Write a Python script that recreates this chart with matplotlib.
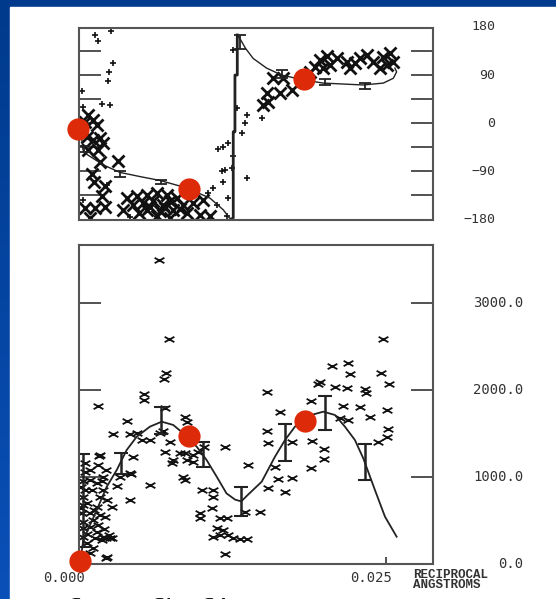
import numpy as np
import matplotlib
matplotlib.use("Agg")
import matplotlib.pyplot as plt
from matplotlib.path import Path
from matplotlib.colors import LinearSegmentedColormap
from matplotlib.patches import Rectangle

# ---------------- data ----------------
# phase panel (degrees)
phase_plus_x = [0.00256, 0.00128, 0.00155, 0.00277, 0.00245, 0.00236, 0.00024, 0.00183, 0.00250, 0.00028,
                0.00413, 0.00033, 0.01174, 0.01215, 0.01133, 0.01161, 0.01092, 0.01052, 0.01120, 0.01174,
                0.01242, 0.01201, 0.01365, 0.01487, 0.01351, 0.01324, 0.01365, 0.01283, 0.01188, 0.01255,
                0.01255, 0.01215, 0.00223]
phase_plus_y = [173, 164, 154, 112, 96, 79, 61, 36, 34, 31,
                -176, -143, -45, -37, -48, -90, -121, -131, -153, -109,
                -84, -174, 15, 10, 0, -18, -102, 29, -87, -62,
                137, -140, -115]

phase_x_x = [0.00073, 0.00114, 0.00046, 0.00142, 0.00169, 0.00114, 0.00060, 0.00196, 0.00155, 0.00073,
             0.00169, 0.00318, 0.00209, 0.00183, 0.00128, 0.00046, 0.00209, 0.00087, 0.00100, 0.00120,
             0.00386, 0.00468, 0.00549, 0.00631, 0.00712, 0.00794, 0.00440, 0.00522, 0.00603, 0.00685,
             0.00739, 0.00848, 0.00929, 0.01011, 0.00359, 0.00549, 0.00658, 0.00766, 0.00875, 0.00984,
             0.01065, 0.00739, 0.00631, 0.00490, 0.00580, 0.00700, 0.00820,
             0.01582, 0.01663, 0.01527, 0.01636, 0.01731, 0.01500, 0.01541, 0.01921, 0.01962, 0.02044,
             0.02098, 0.02180, 0.02207, 0.02288, 0.02343, 0.02397, 0.02478, 0.02533, 0.02506, 0.01880,
             0.01989, 0.02451, 0.02560, 0.02020, 0.02250]
phase_x_y = [15, 6, 3, -3, -28, -31, -25, -37, -50, -50,
             -72, -70, -117, -137, -159, -159, -156, -177, -95, -110,
             -140, -137, -134, -131, -134, -140, -153, -149, -146, -153,
             -146, -153, -149, -143, -162, -162, -165, -162, -168, -171,
             -174, -177, -174, -168, -157, -158, -160,
             84, 84, 56, 56, 62, 34, 39, 106, 118, 109,
             121, 115, 103, 121, 128, 115, 124, 131, 109, 96,
             103, 103, 115, 125, 112]

phase_fit_x = [0.0001, 0.0002, 0.0003, 0.0006, 0.00087, 0.00196, 0.00332, 0.00500, 0.00658, 0.00875,
               0.01065, 0.01174, 0.01223, 0.01240, 0.01255, 0.01255, 0.01269, 0.01269, 0.01288, 0.01288,
               0.01310, 0.01355, 0.01418, 0.01527, 0.01650, 0.01826, 0.01989, 0.02315, 0.02478, 0.02560,
               0.02587, 0.02573]
phase_fit_y = [-10, -30, -50, -58, -62, -78, -92, -100, -107, -121,
               -140, -162, -177, -179, -177, -16, -16, 90, 90, 165,
               158, 140, 121, 103, 90, 81, 75, 71.5, 75, 84,
               96, 103]
phase_err_x = [0.0004, 0.0033, 0.0067, 0.0131, 0.0165, 0.0200, 0.0233]
phase_err_lo = [-53, -100, -114, 139, 84, 71, 64]
phase_err_hi = [-42, -90, -106, 165, 99, 82, 75]
phase_dots_x = [-0.00008, 0.00897, 0.01832]
phase_dots_y = [-10.6, -122.7, 82.7]

# amplitude panel
amp_x = [0.00652, 0.00734, 0.00704, 0.00693, 0.00527, 0.00527, 0.00155, 0.00699, 0.00386, 0.00277,
         0.00413, 0.00468, 0.00508, 0.00576, 0.00658, 0.00739, 0.00862, 0.00875, 0.00699, 0.00820,
         0.00862, 0.00929, 0.00766, 0.00753, 0.00875, 0.00970, 0.01188, 0.00440, 0.00413, 0.00332,
         0.00576, 0.00413, 0.00264, 0.00848, 0.00862, 0.00998, 0.01092, 0.01092, 0.01079, 0.00984,
         0.00984, 0.01147, 0.01201, 0.01120, 0.01174, 0.01092, 0.01147, 0.01215, 0.01255, 0.01188,
         0.00087, 0.00155, 0.00169, 0.00046, 0.00033, 0.00087, 0.00142, 0.00182, 0.00196, 0.00046,
         0.00101, 0.00196, 0.00033, 0.00169, 0.00033, 0.00142, 0.00223, 0.00020, 0.00087, 0.00169,
         0.00033, 0.00114, 0.00209, 0.00033, 0.00087, 0.00142, 0.00196, 0.00250, 0.00182, 0.00033,
         0.00060, 0.00114, 0.00223, 0.00087, 0.00163, 0.00046, 0.00221, 0.00307, 0.00221, 0.00060,
         0.00120, 0.00060, 0.00150, 0.00200, 0.00130, 0.00270, 0.00240, 0.00010, 0.00010, 0.00221,
         0.01527, 0.02478, 0.02057, 0.02193, 0.02207, 0.02459, 0.02524, 0.01962, 0.01948, 0.02084,
         0.02180, 0.02329, 0.02335, 0.01889, 0.02152, 0.02288, 0.02506, 0.01636, 0.02125, 0.02193,
         0.02370, 0.01527, 0.02519, 0.02506, 0.02437, 0.01541, 0.01731, 0.01894, 0.01997, 0.01997,
         0.01378, 0.01595, 0.01889, 0.01622, 0.01731, 0.01541, 0.01677, 0.01473, 0.01310, 0.01364,
         0.01348, 0.00682, 0.00929, 0.00423, 0.01016]
amp_y = [3494, 2586, 2192, 2126, 1954, 1885, 1820, 1797, 1647, 1494,
         1494, 1502, 1425, 1425, 1502, 1406, 1693, 1636, 1291, 1272,
         1272, 1253, 1195, 1157, 1195, 1291, 1349, 1233, 1042, 1004,
         908, 736, 659, 1004, 966, 851, 851, 774, 640, 583,
         525, 525, 525, 410, 391, 314, 333, 333, 295, 115,
         1080, 1138, 1253, 1061, 950, 960, 928, 950, 1004, 851,
         851, 851, 774, 774, 678, 659, 736, 583, 583, 563,
         486, 506, 544, 410, 429, 372, 314, 295, 276, 314,
         238, 180, 84, 123, 1241, 1157, 1080, 900, 295, 700,
         620, 350, 450, 400, 300, 300, 330, 880, 640, 73,
         1981, 2583, 2276, 2314, 2184, 2199, 2069, 2096, 2069, 2038,
         2019, 2011, 1962, 1877, 1816, 1808, 1770, 1743, 1674, 1655,
         1693, 1529, 1548, 1463, 1406, 1387, 1406, 1417, 1318, 1207,
         1138, 1118, 1107, 977, 985, 870, 831, 594, 284, 284,
         601, 1532, 1169, 1031, 1349]

amp_fit_x = [0.0002, 0.00033, 0.00142, 0.00224, 0.00305, 0.00386, 0.00468, 0.00576, 0.00672, 0.00766,
             0.00848, 0.00957, 0.01038, 0.01120, 0.01200, 0.01270, 0.01320, 0.01378, 0.01487, 0.01595,
             0.01677, 0.01758, 0.01840, 0.01989, 0.02084, 0.02166, 0.02247, 0.02315, 0.02410, 0.02492,
             0.02587]
amp_fit_y = [150, 276, 621, 889, 1080, 1310, 1463, 1579, 1636, 1598,
             1502, 1349, 1195, 1004, 812, 740, 720, 800, 946, 1233,
             1425, 1578, 1693, 1751, 1713, 1578, 1425, 1215, 851, 544,
             314]
amp_err_x = [0.0003, 0.0034, 0.0067, 0.0101, 0.0132, 0.0168, 0.0200, 0.0233]
amp_err_lo = [200, 1040, 1500, 1120, 550, 1180, 1540, 965]
amp_err_hi = [1270, 1275, 1810, 1405, 880, 1610, 1930, 1375]
amp_dots_x = [0.00006, 0.00897, 0.01840]
amp_dots_y = [38, 1475, 1647]

phase_ticks = [-135, -90, -45, 0, 45, 90, 135]
phase_labels = [(180, "180"), (90, "90"), (0, "0"), (-90, "\u221290"), (-180, "\u2212180")]
amp_ticks = [1000, 2000, 3000]
amp_labels = [(3000, "3000.0"), (2000, "2000.0"), (1000, "1000.0"), (0, "0.0")]
x_labels = [(0.0, "0.000"), (0.025, "0.025")]
XMAX = 0.02886

# ---------------- figure ----------------
W, H = 556, 599
fig = plt.figure(figsize=(W / 100, H / 100), dpi=100)

bg = fig.add_axes([0, 0, 1, 1], zorder=-10)
grad = np.linspace(0, 1, 256).reshape(-1, 1)
cmap = LinearSegmentedColormap.from_list("bgblue", ["#003a8c", "#0a50b8"])
bg.imshow(grad, extent=[0, 1, 0, 1], aspect="auto", cmap=cmap, origin="upper")
bg.add_patch(Rectangle((10 / W, 0), 1 - 10 / W, 1 - 7 / H, color="white"))
bg.set_xlim(0, 1)
bg.set_ylim(0, 1)
bg.axis("off")

mono = "DejaVu Sans Mono"
lab_color = "#333333"

ax1 = fig.add_axes([79.3 / W, (H - 219.5) / H, 354 / W, 191.5 / H])
ax2 = fig.add_axes([79.3 / W, (H - 564) / H, 354 / W, 319 / H])

for ax in (ax1, ax2):
    ax.set_facecolor("white")
    for s in ax.spines.values():
        s.set_color("#555555")
        s.set_linewidth(1.5)
    ax.set_xlim(0, XMAX)

# ---- phase panel ----
ax1.set_ylim(-180, 178)
ax1.set_yticks(phase_ticks)
ax1.set_xticks([])
ax1.tick_params(axis="y", direction="in", length=16, width=1.2, color="#333333",
                left=True, right=True, labelleft=False, labelright=False)
ax1.plot(phase_plus_x, phase_plus_y, linestyle="none", marker="+", markersize=5,
         mew=1.2, color="#111111")
ax1.plot(phase_x_x, phase_x_y, linestyle="none", marker="x", markersize=9,
         mew=2.0, color="#111111")
ax1.plot(phase_fit_x, phase_fit_y, color="#222222", lw=1.0)
ax1.plot(phase_fit_x[13:20], phase_fit_y[13:20], color="#222222", lw=2.0)
pc = [(a + b) / 2 for a, b in zip(phase_err_lo, phase_err_hi)]
pe = [(b - a) / 2 for a, b in zip(phase_err_lo, phase_err_hi)]
ax1.errorbar(phase_err_x, pc, yerr=pe, fmt="none", ecolor="#222222", elinewidth=1.3,
             capsize=4, capthick=1.3)
ax1.plot(phase_dots_x, phase_dots_y, "o", markersize=16, color="#dd2a08", mec="none",
         clip_on=False, zorder=10)
for v, t in phase_labels:
    ax1.annotate(t, xy=(1, v), xycoords=("axes fraction", "data"), xytext=(62, 0),
                 textcoords="offset pixels", ha="right", va="center", fontsize=9.5,
                 family=mono, color=lab_color, annotation_clip=False)

# ---- amplitude panel ----
ax2.set_ylim(0, 3667)
ax2.set_yticks(amp_ticks)
ax2.set_xticks([0.025])
ax2.tick_params(axis="y", direction="in", length=16, width=1.2, color="#333333",
                left=True, right=True, labelleft=False, labelright=False)
ax2.tick_params(axis="x", direction="in", length=5, width=1.2, color="#333333",
                bottom=True, top=False, labelbottom=False)
xm = Path([(-1, -0.55), (1, 0.55), (-1, 0.55), (1, -0.55)],
          [Path.MOVETO, Path.LINETO, Path.MOVETO, Path.LINETO])
ax2.plot(amp_x, amp_y, linestyle="none", marker=xm, markersize=7, mew=1.3, color="#111111")
ax2.plot(amp_fit_x, amp_fit_y, color="#222222", lw=1.3)
ac = [(a + b) / 2 for a, b in zip(amp_err_lo, amp_err_hi)]
ae = [(b - a) / 2 for a, b in zip(amp_err_lo, amp_err_hi)]
ax2.errorbar(amp_err_x, ac, yerr=ae, fmt="none", ecolor="#222222", elinewidth=1.8,
             capsize=4.7, capthick=1.5)
ax2.plot(amp_dots_x, amp_dots_y, "o", markersize=16, color="#dd2a08", mec="none",
         clip_on=False, zorder=10)
for v, t in amp_labels:
    ax2.annotate(t, xy=(1, v), xycoords=("axes fraction", "data"), xytext=(90, 0),
                 textcoords="offset pixels", ha="right", va="center", fontsize=10,
                 family=mono, color=lab_color, annotation_clip=False)
for v, t in x_labels:
    ax2.annotate(t, xy=(v, 0), xycoords=("data", "axes fraction"), xytext=(6, -14),
                 textcoords="offset pixels", ha="right", va="center", fontsize=10,
                 family=mono, color=lab_color, annotation_clip=False)
ax2.annotate("RECIPROCAL\nANGSTROMS", xy=(1, 0), xycoords="axes fraction", xytext=(-20, -16),
             textcoords="offset pixels", ha="left", va="center", fontsize=9,
             family="Liberation Mono", weight="bold", color=lab_color, linespacing=0.85,
             annotation_clip=False)

fig.text(32 / W, -19 / H, "Cuf 3D fh fit", fontsize=20, family="Liberation Mono",
         va="baseline", ha="left", color="#111111")

fig.savefig("out.png", dpi=100)
